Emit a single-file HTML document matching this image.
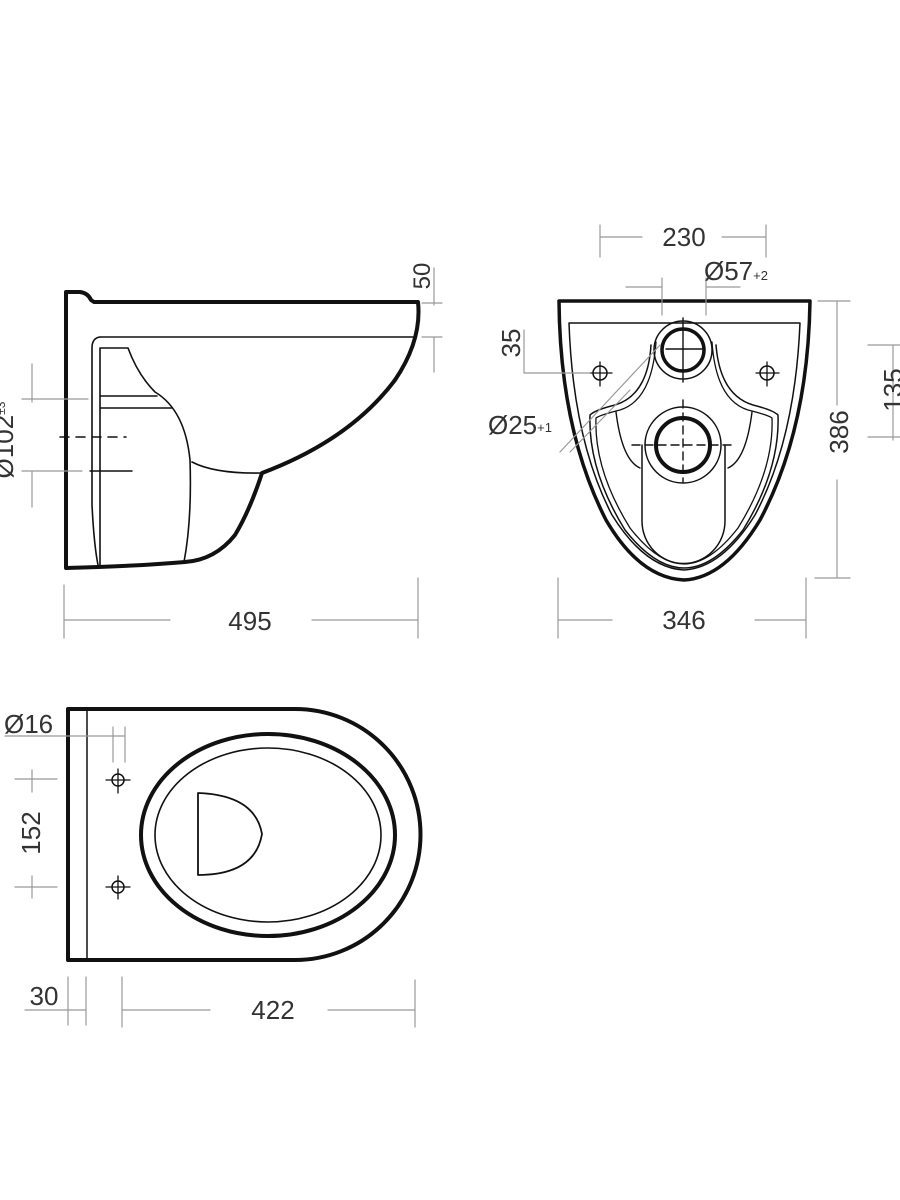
<!DOCTYPE html>
<html><head><meta charset="utf-8"><style>
html,body{margin:0;padding:0;background:#fff;}
svg{display:block;}
text{font-family:"Liberation Sans",sans-serif;fill:#333;}
</style></head><body>
<svg width="900" height="1200" viewBox="0 0 900 1200" xmlns="http://www.w3.org/2000/svg">
<g fill="none" stroke-linecap="round" stroke-linejoin="round">
<!-- ===== SIDE VIEW ===== -->
<g stroke="#111">
<path d="M66,568 L66,292 L80,292 Q88,293 91,300 L94,302 L418,302 Q422,340 395,380 Q350,440 262,473 Q250,510 235,535 Q215,560 185,562 Q140,566 66,568" stroke-width="4"/>
<path d="M100,337 L416,337" stroke-width="1.6"/>
<path d="M100,337 Q92,338 92,348 L92,505 Q94,545 98,565" stroke-width="1.6"/>
<path d="M100,565 L100,348 L128,348 Q138,375 155,392 Q185,410 190,460 Q192,520 184,562" stroke-width="1.6"/>
<path d="M100,396 L157,396 M100,408 L172,408" stroke-width="1.4"/>
<path d="M192,462 Q215,474 262,473" stroke-width="1.6"/>
<path d="M60,437 L126,437" stroke-width="1.5" stroke-dasharray="9,7"/>
<path d="M90,471 L132,471" stroke-width="1.4"/>
</g>
<g stroke="#999" stroke-width="1.2">
<path d="M32,364 L32,402 M22,399 L88,399 M22,471 L82,471 M32,471 L32,507"/>
<path d="M434,268 L434,305 M422,303 L442,303 M422,337 L442,337 M434,337 L434,372"/>
<path d="M64,585 L64,638 M418,578 L418,638 M64,620 L170,620 M312,620 L418,620"/>
</g>
<text x="250" y="630" font-size="26" text-anchor="middle">495</text>
<text transform="translate(430,276) rotate(-90)" font-size="24" text-anchor="middle">50</text>
<text transform="translate(13,440) rotate(-90)" font-size="26" text-anchor="middle">Ø102<tspan font-size="12" dy="-8">±3</tspan></text>

<!-- ===== FRONT VIEW ===== -->
<g stroke="#111">
<path d="M559,301 L810,301 Q808,430 760,520 Q725,578 684,580 Q640,578 606,520 Q560,430 559,301 Z" stroke-width="3.5"/>
<path d="M569,323 L800,323 Q795,440 755,515 Q722,568 684,570 Q645,568 612,515 Q573,440 569,323 Z" stroke-width="1.5"/>
<path d="M651,345 Q648,395 615,405 Q595,410 590,415 Q588,470 625,530 Q655,568 684,568 Q713,568 743,530 Q780,470 778,415 Q773,410 753,405 Q720,395 716,345" stroke-width="1.5"/>
<path d="M656,342 Q652,400 620,410 Q600,415 596,418 Q594,470 630,528 Q658,564 684,564 Q710,564 738,528 Q774,470 772,418 Q768,415 748,410 Q716,400 712,342" stroke-width="1.3"/>
<path d="M616,412 Q622,460 640,468 M752,412 Q746,460 728,468" stroke-width="1.4"/>
<circle cx="683" cy="350" r="29" stroke-width="1.5"/>
<circle cx="683" cy="350" r="21" stroke-width="3.5"/>
<circle cx="683" cy="445" r="38" stroke-width="1.5"/>
<circle cx="683" cy="445" r="27" stroke-width="4"/>
<path d="M642,445 L642,521 A41,42 0 0 0 725,521 L725,445" stroke-width="1.5"/>
<circle cx="600" cy="373" r="7" stroke-width="1.5"/>
<circle cx="767" cy="373" r="7" stroke-width="1.5"/>
<path d="M590,373 L612,373 M600,362 L600,386 M756,373 L779,373 M767,362 L767,386" stroke-width="1.3"/>
<path d="M683,318 L683,382 M666,349 L705,349" stroke-width="1.4"/>
<path d="M632,445 L736,445 M683,400 L683,482" stroke-width="1.4" stroke-dasharray="8,5"/>
</g>
<g stroke="#999" stroke-width="1.2">
<path d="M600,225 L600,257 M766,225 L766,257 M600,237 L642,237 M722,237 L766,237"/>
<path d="M662,278 L662,315 M706,278 L706,315 M626,287 L662,287 M706,287 L740,287"/>
<path d="M524,373 L590,373 M524,330 L524,373"/>
<path d="M560,452 L660,345 M630,390 L570,452"/>
<path d="M818,301 L850,301 M837,301 L837,405 M837,480 L837,578 M815,578 L850,578"/>
<path d="M868,345 L900,345 M893,345 L893,440 M868,437 L900,437"/>
<path d="M558,578 L558,638 M806,578 L806,638 M558,620 L612,620 M755,620 L806,620"/>
</g>
<text x="684" y="246" font-size="26" text-anchor="middle">230</text>
<text x="704" y="280" font-size="26">Ø57<tspan font-size="13">+2</tspan></text>
<text transform="translate(520,343) rotate(-90)" font-size="26" text-anchor="middle">35</text>
<text x="488" y="434" font-size="26">Ø25<tspan font-size="13" dy="-2">+1</tspan></text>
<text transform="translate(848,432) rotate(-90)" font-size="26" text-anchor="middle">386</text>
<text transform="translate(902,390) rotate(-90)" font-size="26" text-anchor="middle">135</text>
<text x="684" y="629" font-size="26" text-anchor="middle">346</text>

<!-- ===== TOP VIEW ===== -->
<g stroke="#111">
<path d="M68,709 L295,709 A125,125 0 0 1 295,960 L68,960 Z" stroke-width="4"/>
<path d="M87,710 L87,959" stroke-width="1.5"/>
<ellipse cx="268" cy="835" rx="127" ry="101" stroke-width="4"/>
<ellipse cx="268" cy="835" rx="113" ry="87" stroke-width="1.6"/>
<path d="M198,793 L198,875 Q255,875 262,834 Q255,795 198,793 Z" stroke-width="1.8"/>
<circle cx="118" cy="780" r="6" stroke-width="1.5"/>
<circle cx="118" cy="887" r="6" stroke-width="1.5"/>
<path d="M106,780 L130,780 M118,769 L118,793 M106,887 L130,887 M118,876 L118,899" stroke-width="1.3"/>
</g>
<g stroke="#999" stroke-width="1.2">
<path d="M5,736 L125,736 M113,727 L113,762 M125,727 L125,762"/>
<path d="M15,779 L57,779 M32,770 L32,792 M15,887 L57,887 M32,876 L32,898"/>
<path d="M68,977 L68,1025 M86,977 L86,1025 M25,1010 L86,1010"/>
<path d="M122,977 L122,1027 M415,980 L415,1027 M122,1010 L210,1010 M328,1010 L415,1010"/>
</g>
<text x="4" y="733" font-size="26">Ø16</text>
<text transform="translate(40,833) rotate(-90)" font-size="26" text-anchor="middle">152</text>
<text x="44" y="1005" font-size="26" text-anchor="middle">30</text>
<text x="273" y="1019" font-size="26" text-anchor="middle">422</text>
</g>
</svg>
</body></html>
